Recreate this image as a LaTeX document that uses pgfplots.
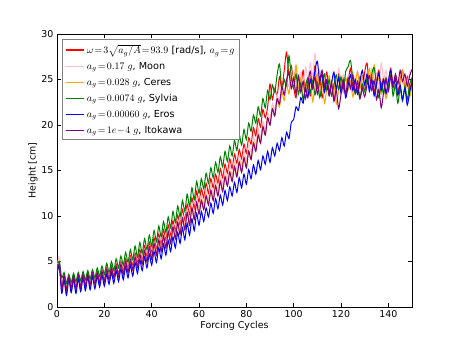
\documentclass[border=0pt]{standalone}
\usepackage{fontspec}
\setmainfont{DejaVu Sans}
\usepackage{pgfplots}
\usepackage{pgfplotstable}
\pgfplotsset{compat=1.18}

% height [cm] against forcing cycle, one column per gravity case
\pgfplotstableread{
x R P O G B V
0 4.0 4.2 3.8 4.3 3.6 3.9
1 4.6 5.5 4.4 5.0 4.5 4.7
2 2.2 1.8 2.4 3.2 1.5 2.0
3 3.4 3.6 3.0 3.8 3.0 3.5
4 1.9 1.4 1.4 2.6 1.3 1.8
5 3.3 3.0 3.2 3.6 3.1 3.3
6 2.0 2.3 1.6 2.7 1.6 2.1
7 3.5 3.3 3.3 3.7 3.0 3.4
8 2.2 2.1 1.8 2.8 1.5 2.0
9 3.4 3.6 3.2 3.8 3.1 3.5
10 2.3 2.2 1.9 2.9 1.7 2.2
11 3.6 3.4 3.3 3.9 3.2 3.6
12 2.4 2.3 2.0 3.0 1.8 2.3
13 3.7 3.5 3.4 4.0 3.3 3.6
14 2.5 2.4 2.1 3.1 1.9 2.4
15 3.8 3.6 3.5 4.1 3.4 3.7
16 2.6 2.5 2.3 3.2 2.0 2.5
17 3.9 3.8 3.6 4.3 3.4 3.8
18 2.8 2.7 2.5 3.4 2.2 2.7
19 4.1 3.9 3.8 4.5 3.5 3.9
20 3.0 2.9 2.7 3.6 2.3 2.8
21 4.3 4.1 4.0 4.8 3.6 4.1
22 3.2 3.0 2.9 3.8 2.5 3.0
23 4.5 4.3 4.2 5.0 3.8 4.3
24 3.4 3.2 3.1 4.0 2.6 3.2
25 4.7 4.5 4.4 5.3 4.0 4.5
26 3.6 3.4 3.3 4.3 2.8 3.4
27 5.0 4.8 4.6 5.6 4.2 4.7
28 3.9 3.6 3.5 4.6 3.0 3.6
29 5.3 5.0 4.8 6.0 4.4 5.0
30 4.2 3.9 3.7 4.9 3.2 3.8
31 5.6 5.3 5.1 6.3 4.6 5.2
32 4.5 4.2 4.0 5.2 3.4 4.1
33 5.9 5.6 5.4 6.7 4.9 5.5
34 4.8 4.5 4.3 5.5 3.7 4.4
35 6.3 5.9 5.7 7.1 5.2 5.8
36 5.1 4.9 4.6 5.9 4.0 4.7
37 6.7 6.3 6.0 7.5 5.5 6.2
38 5.5 5.2 4.9 6.3 4.3 5.0
39 7.1 6.7 6.4 7.9 5.8 6.6
40 5.9 5.6 5.3 6.7 4.6 5.3
41 7.6 7.1 6.8 8.4 6.1 7.0
42 6.3 6.0 5.7 7.2 4.9 5.7
43 8.0 7.6 7.2 8.9 6.5 7.4
44 6.8 6.4 6.1 7.7 5.3 6.1
45 8.5 8.0 7.7 9.4 6.9 7.8
46 7.3 6.9 6.5 8.2 5.7 6.5
47 9.0 8.5 8.1 9.9 7.3 8.3
48 7.8 7.4 7.0 8.7 6.1 7.0
49 9.5 9.0 8.6 10.5 7.7 8.8
50 8.3 7.9 7.5 9.3 6.5 7.5
51 10.1 9.6 9.1 11.1 8.2 9.3
52 8.9 8.5 8.0 9.9 7.0 8.0
53 10.7 10.2 9.7 11.7 8.7 9.8
54 9.5 9.0 8.5 10.5 7.4 8.5
55 11.3 10.8 10.3 12.4 9.2 10.4
56 10.1 9.6 9.1 11.1 7.9 9.0
57 12.0 11.4 10.9 13.1 9.7 10.9
58 10.8 10.2 9.7 11.8 8.4 9.6
59 12.7 12.0 11.5 13.8 10.3 11.5
60 11.5 10.9 10.3 12.5 9.0 10.2
61 13.0 12.3 11.8 14.1 10.5 11.7
62 12.0 11.3 10.8 13.0 9.4 10.7
63 13.6 12.9 12.3 14.7 10.9 12.2
64 12.5 11.8 11.3 13.6 9.9 11.2
65 14.1 13.4 12.9 15.3 11.4 12.8
66 13.1 12.4 11.8 14.2 10.3 11.7
67 14.6 13.9 13.4 15.9 11.9 13.3
68 13.6 12.9 12.3 14.8 10.8 12.2
69 15.2 14.5 13.9 16.5 12.3 13.8
70 14.2 13.5 12.8 15.4 11.2 12.7
71 15.7 15.0 14.4 17.1 12.8 14.3
72 14.7 14.0 13.4 16.0 11.7 13.3
73 16.3 15.6 14.9 17.7 13.2 14.8
74 15.2 14.5 13.9 16.6 12.2 13.8
75 16.8 16.1 15.5 18.3 13.7 15.4
76 15.8 15.1 14.4 17.2 12.6 14.3
77 17.3 16.6 16.0 18.9 14.2 15.9
78 16.3 15.6 14.9 17.8 13.1 14.8
79 17.9 17.2 16.5 19.5 14.6 16.4
80 16.9 16.1 15.4 18.4 13.5 15.3
81 18.6 17.9 17.2 20.2 15.1 17.1
82 17.9 17.0 16.3 19.3 14.1 16.2
83 19.7 18.7 18.1 21.1 15.6 18.0
84 18.8 17.8 17.2 20.2 14.6 17.1
85 20.7 19.6 19.0 22.0 16.1 18.9
86 19.8 18.6 18.0 21.0 15.1 18.0
87 21.7 20.4 19.9 22.9 16.6 19.8
88 20.8 19.5 18.9 21.9 15.7 18.9
89 22.0 21.3 20.7 23.8 17.1 20.8
90 24.5 20.6 20.0 22.8 15.9 20.0
91 22.8 22.4 21.8 24.4 17.5 21.8
92 24.0 21.6 21.0 23.6 16.6 21.0
93 23.2 23.4 22.8 25.5 18.0 22.9
94 25.3 22.6 22.0 26.7 17.2 22.3
95 24.0 24.4 23.6 24.0 18.6 24.2
96 26.0 23.5 22.7 25.0 17.7 23.3
97 28.0 25.0 24.5 24.3 19.2 25.0
98 25.5 24.2 23.4 27.6 18.5 25.7
99 26.5 25.8 25.4 25.2 20.3 24.0
100 24.2 24.6 24.5 24.0 20.6 25.2
101 23.0 26.2 26.6 25.6 22.0 23.4
102 25.4 24.4 24.0 23.4 21.6 25.4
103 24.2 25.8 25.2 24.6 23.0 23.6
104 26.0 24.0 22.8 22.8 22.4 24.8
105 23.8 26.4 24.6 24.2 24.0 22.9
106 25.0 25.0 23.4 25.2 23.0 24.5
107 23.2 26.8 25.3 23.5 25.0 25.9
108 24.6 25.2 22.6 24.9 24.0 24.0
109 26.5 27.8 24.2 23.3 26.0 25.3
110 24.0 25.0 25.6 24.7 27.0 23.4
111 25.3 26.0 23.4 23.0 24.8 24.8
112 23.0 24.2 24.8 24.5 25.6 26.0
113 24.4 25.6 22.4 25.6 23.6 24.2
114 25.8 23.8 24.0 23.8 24.9 25.0
115 23.6 25.2 25.4 25.0 23.3 23.2
116 24.8 24.0 23.2 23.2 24.6 24.6
117 22.8 25.8 24.6 24.4 25.8 22.6
118 24.2 24.4 22.3 25.5 23.9 23.8
119 25.6 26.2 23.8 23.9 25.2 21.8
120 24.0 24.8 25.0 25.3 23.5 23.4
121 25.2 25.5 23.6 24.0 24.7 24.9
122 23.4 23.9 25.2 25.9 23.0 23.3
123 24.8 25.4 23.9 26.4 24.3 25.2
124 26.2 24.1 24.8 27.1 25.5 24.0
125 24.3 25.9 23.1 25.0 23.8 25.5
126 25.0 24.6 24.5 23.4 25.0 23.6
127 23.5 26.0 25.8 24.2 23.4 24.8
128 25.3 24.3 24.0 22.9 24.8 22.9
129 24.0 25.2 25.4 24.5 26.0 24.0
130 25.8 23.8 23.7 23.7 24.4 23.1
131 26.8 25.6 25.0 25.1 25.6 24.4
132 24.2 24.4 26.2 24.0 23.7 25.4
133 25.5 26.2 24.3 25.6 25.0 23.8
134 23.6 24.9 26.6 26.3 23.2 24.9
135 24.9 25.7 24.5 24.3 24.5 22.8
136 26.0 24.0 25.2 23.0 25.7 23.9
137 24.1 26.8 23.4 24.6 23.8 21.9
138 25.2 25.0 24.8 23.4 25.0 23.6
139 23.3 26.0 22.9 25.2 23.5 25.0
140 24.7 24.3 24.3 24.0 24.8 23.7
141 26.2 25.4 25.7 25.5 26.0 25.3
142 24.5 23.9 23.8 23.2 24.2 24.2
143 25.4 25.3 25.2 24.4 25.1 25.6
144 23.6 24.2 23.2 22.4 23.3 24.5
145 25.0 25.9 24.6 24.0 24.4 26.0
146 26.0 24.5 25.9 22.6 22.8 24.8
147 24.0 25.5 23.9 24.3 24.0 25.6
148 25.3 24.0 25.0 22.8 22.2 24.3
149 23.8 25.8 23.1 24.5 23.6 25.4
150 25.2 26.1 24.4 25.2 24.6 26.1
}\heights

\definecolor{mpink}{RGB}{255,192,203}
\definecolor{morange}{RGB}{255,165,0}
\definecolor{mgreen}{RGB}{0,128,0}
\definecolor{mpurple}{RGB}{128,0,128}

\begin{document}
\begin{tikzpicture}[x=1bp,y=1bp]
\useasboundingbox (0,0) rectangle (458,343);
\begin{axis}[
    at={(57bp,36bp)}, anchor=south west,
    scale only axis,
    width=355bp, height=273bp,
    xmin=0, xmax=150, ymin=0, ymax=30,
    xtick={0,20,...,140},
    ytick={0,5,...,30},
    tick align=inside,
    major tick length=4bp,
    axis line style={line width=0.8bp},
    tick style={black, line width=0.6bp},
    /pgf/number format/assume math mode=true,
    tick label style={font=\fontsize{9.5}{11}\selectfont},
    label style={font=\fontsize{9.5}{11}\selectfont},
    xlabel={Forcing Cycles},
    ylabel={Height [cm]},
    xlabel style={yshift=3bp},
    ylabel style={yshift=-3bp},
    legend style={at={(0.014,0.982)}, anchor=north west,
        draw=gray, line width=1.4bp,
        font=\fontsize{9.7}{11.5}\selectfont,
        row sep=3.2bp, inner xsep=3bp, inner ysep=3bp,
        cells={anchor=west}},
    legend cell align=left,
    legend image code/.code={
        \draw[#1, line width=1.3bp, sharp plot] (0bp,0bp) -- (18bp,0bp);},
    every axis plot/.append style={line width=1bp, mark=none, smooth, tension=0.45},
]
\addplot[color=red] table[x=x, y=R] {\heights};
\addlegendentry{$\omega\!=\!3\sqrt{a_g/A}\!=\!93.9$ [rad/s], $a_g\!=\!g$}
\addplot[color=mpink] table[x=x, y=P] {\heights};
\addlegendentry{$a_g\!=\!0.17\ g$, Moon}
\addplot[color=morange] table[x=x, y=O] {\heights};
\addlegendentry{$a_g\!=\!0.028\ g$, Ceres}
\addplot[color=mgreen] table[x=x, y=G] {\heights};
\addlegendentry{$a_g\!=\!0.0074\ g$, Sylvia}
\addplot[color=blue] table[x=x, y=B] {\heights};
\addlegendentry{$a_g\!=\!0.00060\ g$, Eros}
\addplot[color=mpurple] table[x=x, y=V] {\heights};
\addlegendentry{$a_g\!=\!1e\!-\!4\ g$, Itokawa}
\end{axis}
\end{tikzpicture}
\end{document}
